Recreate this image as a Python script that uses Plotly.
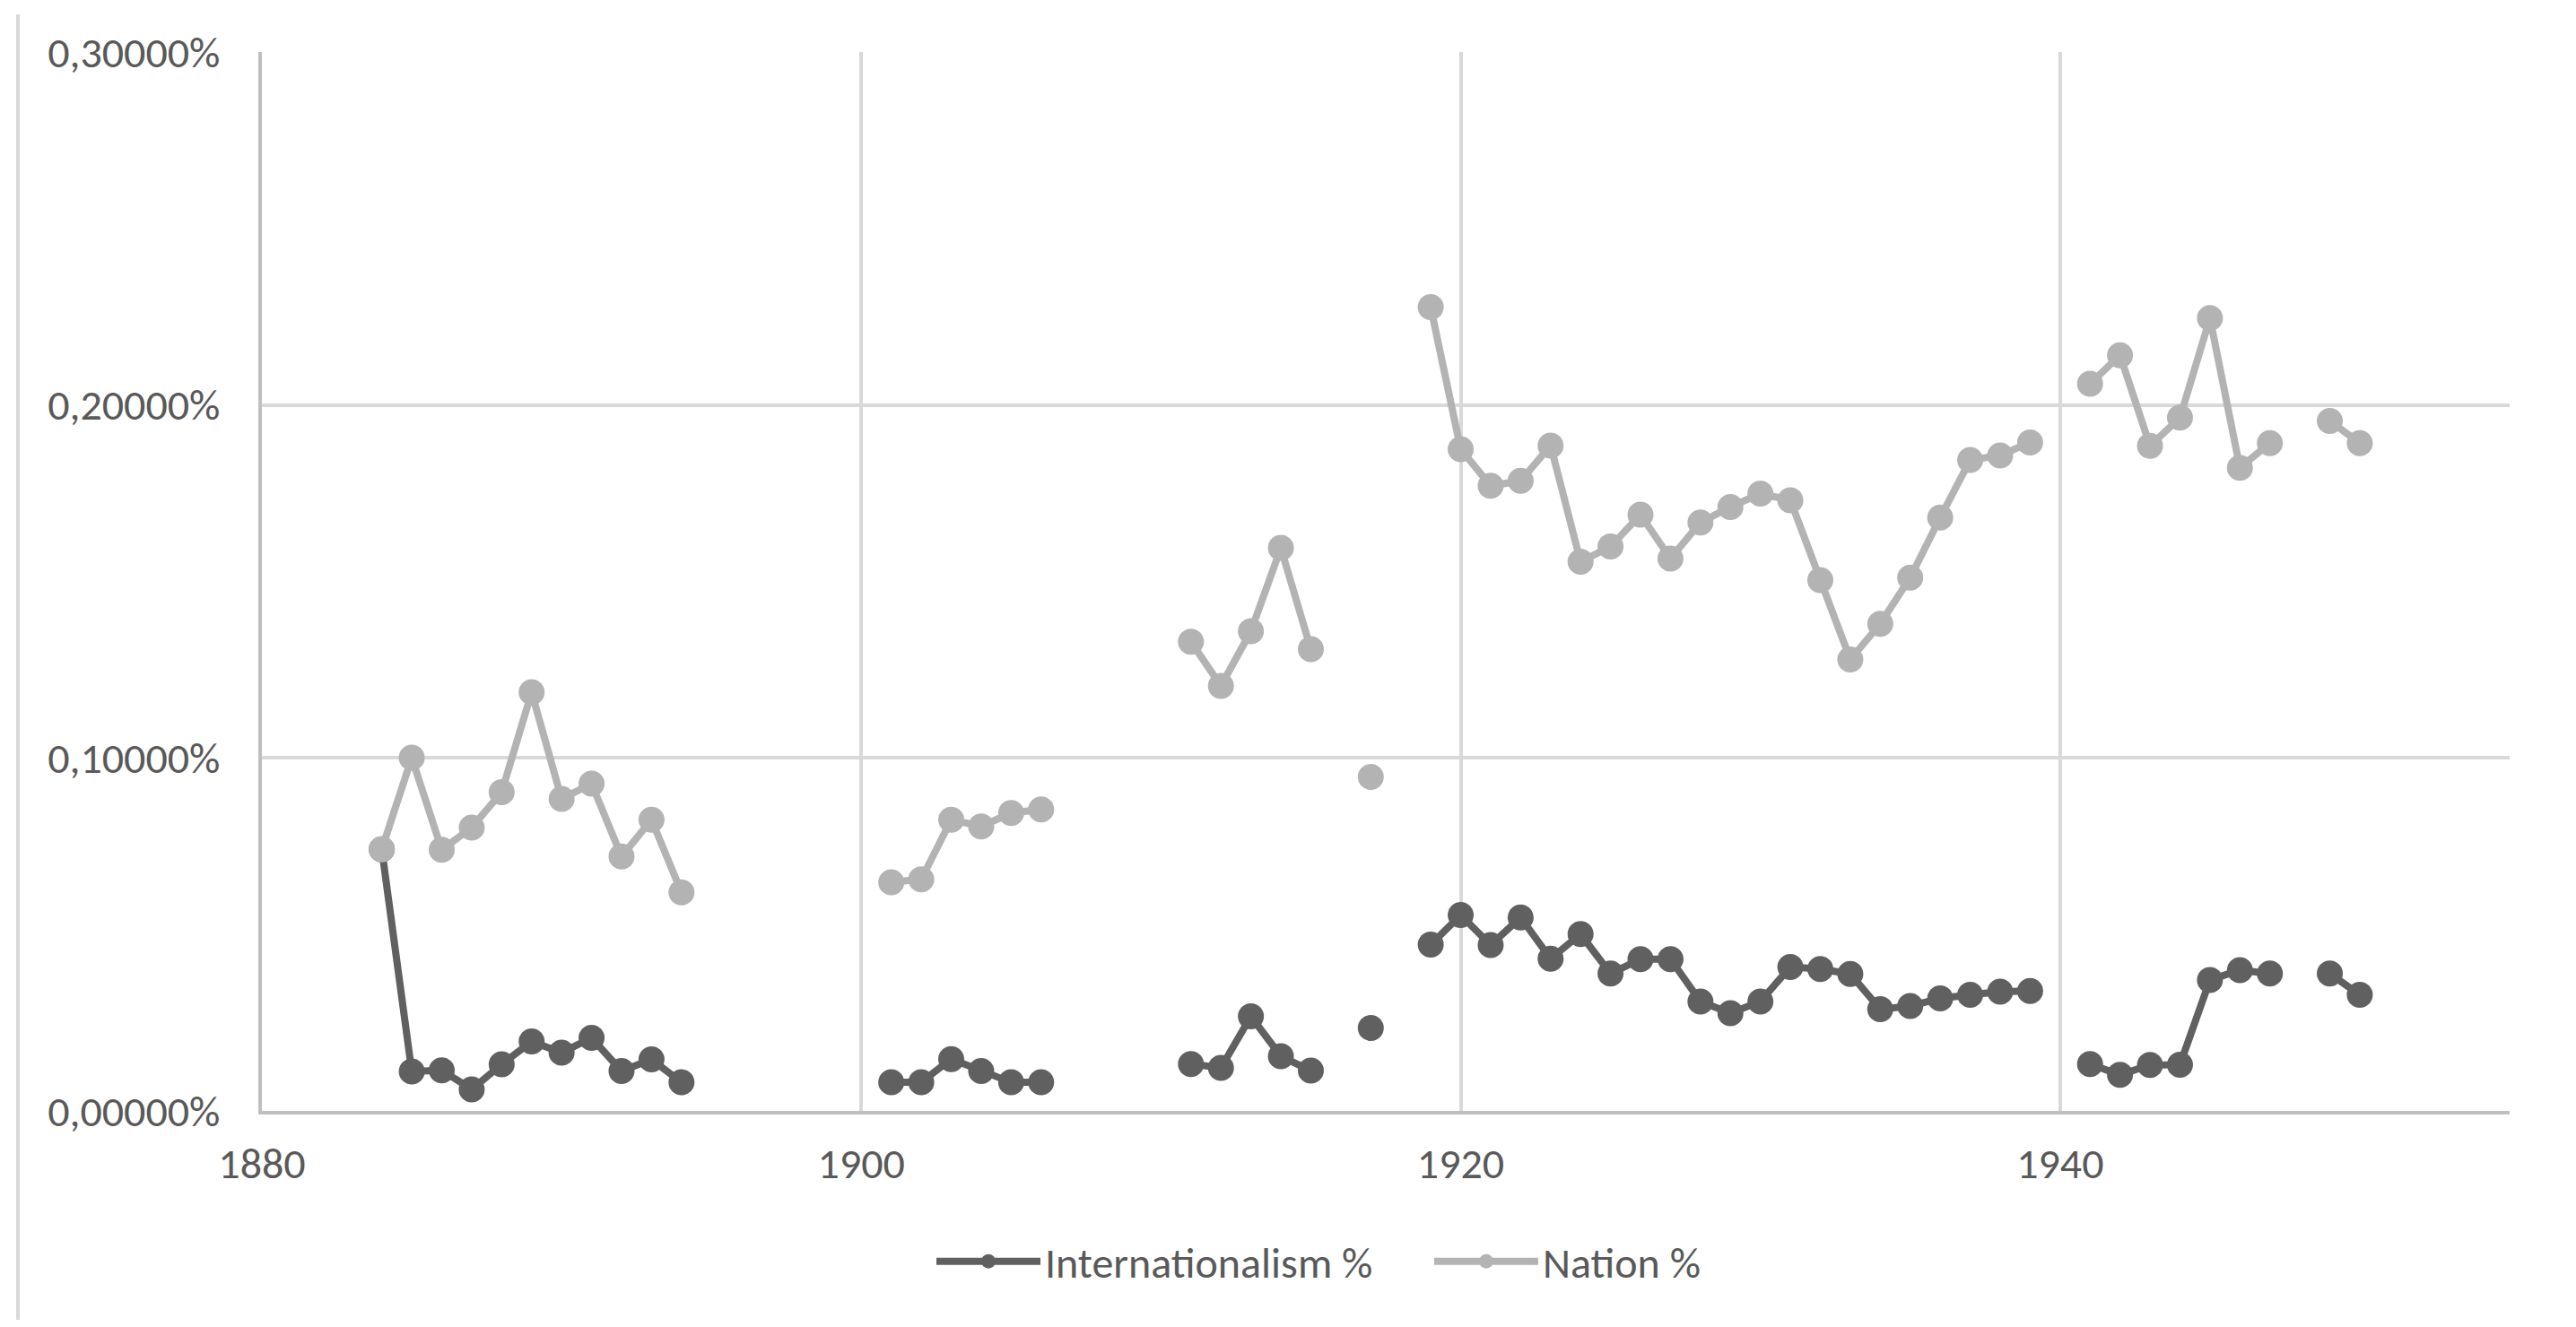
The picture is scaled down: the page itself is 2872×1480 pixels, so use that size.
import plotly.graph_objects as go

years = list(range(1884, 1951))

internationalism = [
    0.0741, 0.0112, 0.0115, 0.0061, 0.0132, 0.0197, 0.0165, 0.0207, 0.0113, 0.0146, 0.0081,  # 1884-1894
    None, None, None, None, None, None,                                                       # 1895-1900
    0.0081, 0.0081, 0.0147, 0.0113, 0.0081, 0.0081,                                           # 1901-1906
    None, None, None, None,                                                                   # 1907-1910
    0.0133, 0.0122, 0.0268, 0.0155, 0.0114,                                                   # 1911-1915
    None, 0.0235, None,                                                                       # 1916-1918
    0.0471, 0.0555, 0.0470, 0.0548, 0.0431, 0.0501, 0.0389, 0.0430, 0.0430, 0.0310,           # 1919-1928
    0.0277, 0.0310, 0.0408, 0.0402, 0.0388, 0.0288, 0.0297, 0.0319, 0.0329, 0.0338, 0.0340,   # 1929-1939
    None,                                                                                     # 1940
    0.0133, 0.0102, 0.0130, 0.0131, 0.0371, 0.0399, 0.0389,                                   # 1941-1947
    None, 0.0389, 0.0329,                                                                     # 1948-1950
]

nation = [
    0.0741, 0.1001, 0.0740, 0.0803, 0.0903, 0.1186, 0.0884, 0.0927, 0.0721, 0.0825, 0.0619,   # 1884-1894
    None, None, None, None, None, None,                                                       # 1895-1900
    0.0648, 0.0656, 0.0825, 0.0806, 0.0844, 0.0854,                                           # 1901-1906
    None, None, None, None,                                                                   # 1907-1910
    0.1329, 0.1204, 0.1359, 0.1595, 0.1308,                                                   # 1911-1915
    None, 0.0946, None,                                                                       # 1916-1918
    0.2277, 0.1875, 0.1771, 0.1785, 0.1885, 0.1556, 0.1599, 0.1689, 0.1565, 0.1667,           # 1919-1928
    0.1711, 0.1749, 0.1730, 0.1504, 0.1279, 0.1380, 0.1511, 0.1681, 0.1844, 0.1857, 0.1894,   # 1929-1939
    None,                                                                                     # 1940
    0.2060, 0.2141, 0.1884, 0.1964, 0.2246, 0.1822, 0.1892,                                   # 1941-1947
    None, 0.1955, 0.1892,                                                                     # 1948-1950
]

y_tickvals = [0.0, 0.1, 0.2, 0.3]
y_ticktext = ["0,00000%", "0,10000%", "0,20000%", "0,30000%"]
x_tickvals = [1880, 1900, 1920, 1940]
x_ticktext = ["1880", "1900", "1920", "1940"]

DARK = "#606060"
LIGHT = "#b3b3b3"
TEXT = "#595959"
GRID = "#d9d9d9"
AXIS = "#bfbfbf"
FONT = "Calibri, Carlito, Lato, 'Liberation Sans', Arial, sans-serif"
FS = 48

# page has an 8px body margin: figure is drawn at (8, 8)
OFF = 8
W, H = 2872 - 2 * OFF, 1480 - 2 * OFF
PL, PR, PT, PB = 292, 2798, 58, 1239          # plot area in page pixels
L, R, T, B = PL - OFF, (W + OFF) - PR, PT - OFF, (H + OFF) - PB
plot_w = PR - PL
plot_h = PB - PT


def px(xp):
    return (xp - PL) / plot_w


def py(yp):
    return (PB - yp) / plot_h


fig = go.Figure()
fig.add_trace(go.Scatter(
    x=years, y=internationalism, name="Internationalism %",
    mode="lines+markers", connectgaps=False, legendwidth=424,
    line=dict(color=DARK, width=8),
    marker=dict(color=DARK, size=29, symbol="circle", line=dict(width=0)),
))
fig.add_trace(go.Scatter(
    x=years, y=nation, name="Nation %",
    mode="lines+markers", connectgaps=False,
    line=dict(color=LIGHT, width=8),
    marker=dict(color=LIGHT, size=29, symbol="circle", line=dict(width=0)),
))

fig.update_layout(
    width=W, height=H,
    margin=dict(l=L, r=R, t=T, b=B, pad=0),
    paper_bgcolor="white", plot_bgcolor="white",
    font=dict(family=FONT, size=FS, color=TEXT),
    showlegend=True,
    legend=dict(
        orientation="h", x=px(1470), xanchor="center",
        y=py(1407), yanchor="middle",
        font=dict(family=FONT, size=FS, color=TEXT),
        itemwidth=116, bgcolor="rgba(0,0,0,0)",
    ),
    xaxis=dict(
        range=[1880, 1955], tickmode="array", tickvals=x_tickvals, ticktext=x_ticktext,
        showgrid=True, gridcolor=GRID, gridwidth=4,
        showline=True, linecolor=AXIS, linewidth=4,
        zeroline=False, ticks="", ticklabelstandoff=13,
        tickfont=dict(family=FONT, size=FS, color=TEXT),
    ),
    yaxis=dict(
        range=[0, 0.3], tickmode="array", tickvals=y_tickvals, ticktext=y_ticktext,
        showgrid=True, gridcolor=GRID, gridwidth=4,
        showline=True, linecolor=AXIS, linewidth=4,
        zeroline=False, ticks="", ticklabelstandoff=33,
        tickfont=dict(family=FONT, size=FS, color=TEXT),
    ),
    shapes=[
        dict(type="line", xref="paper", yref="paper",
             x0=px(20), x1=px(20), y0=py(16), y1=py(1480),
             line=dict(color=GRID, width=4)),
    ],
)

fig.write_html("out.html")
